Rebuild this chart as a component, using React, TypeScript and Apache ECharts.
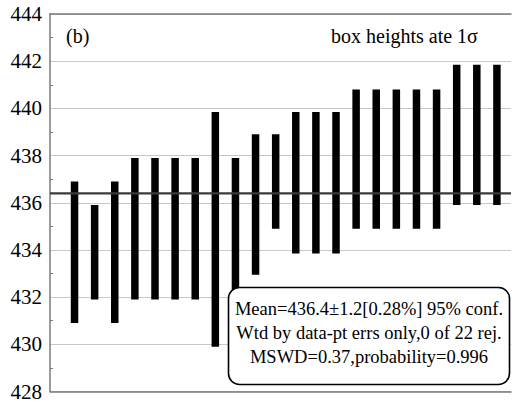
import React, { useEffect, useRef } from "react";
import * as echarts from "echarts";

const positions = [1, 2, 3, 4, 5, 6, 7, 8, 9, 10, 11, 12, 13, 14, 15, 16, 17, 18, 19, 20, 21, 22];
const lows = [430.9, 431.9, 430.9, 431.9, 431.9, 431.9, 431.9, 429.9, 431.9, 432.95, 434.9, 433.85, 433.85, 433.85, 434.9, 434.9, 434.9, 434.9, 434.9, 435.9, 435.9, 435.9];
const highs = [436.9, 435.9, 436.9, 437.9, 437.9, 437.9, 437.9, 439.85, 437.9, 438.9, 438.9, 439.85, 439.85, 439.85, 440.8, 440.8, 440.8, 440.8, 440.8, 441.85, 441.85, 441.85];
const meanValue = 436.4;
const xMin = -0.22;
const xMax = 22.7;
const yMin = 428;
const yMax = 444;
const yInterval = 2;
const panelLabel = "(b)";
const noteLabel = "box heights ate 1σ";
const statLines = [
  "Mean=436.4±1.2[0.28%] 95% conf.",
  "Wtd by data-pt errs only,0 of 22 rej.",
  "MSWD=0.37,probability=0.996",
];

const FONT = "Liberation Serif";

export default function App() {
  const ref = useRef<HTMLDivElement>(null);
  useEffect(() => {
    if (!ref.current) return;
    const chart = echarts.init(ref.current, null, { renderer: "svg" });
    const data = positions.map((p, i) => [p, lows[i], highs[i]]);
    const hiddenX = (pos: string) => ({
      type: "value",
      min: xMin,
      max: xMax,
      position: pos,
      axisLine: { show: true, onZero: false, lineStyle: { color: "#7a7a7a", width: 1.5 } },
      axisTick: { show: false },
      axisLabel: { show: false },
      splitLine: { show: false },
    });
    chart.setOption({
      animation: false,
      grid: { left: 50, right: 1, top: 14, bottom: 6 },
      xAxis: [hiddenX("bottom"), hiddenX("top")],
      yAxis: {
        type: "value",
        min: yMin,
        max: yMax,
        interval: yInterval,
        axisLine: { show: true, onZero: false, lineStyle: { color: "#7a7a7a", width: 1.5 } },
        axisTick: { show: false, inside: true },
        minorTick: { show: true, splitNumber: 2, length: 3, lineStyle: { color: "#7a7a7a" } },
        axisLabel: { color: "#000", fontFamily: FONT, fontSize: 21, margin: 8 },
        splitLine: { show: true, lineStyle: { color: "#c8c8c8", width: 1.2 } },
      },
      series: [
        {
          type: "custom",
          xAxisIndex: 0,
          data,
          renderItem: (params: any, api: any) => {
            const x = api.value(0);
            const top = api.coord([x, api.value(2)]);
            const bot = api.coord([x, api.value(1)]);
            const w = 7.5;
            return {
              type: "rect",
              shape: { x: top[0] - w / 2, y: top[1], width: w, height: bot[1] - top[1] },
              style: { fill: "#000" },
            };
          },
          z: 2,
        },
        {
          type: "line",
          xAxisIndex: 0,
          data: [
            [xMin, meanValue],
            [xMax, meanValue],
          ],
          symbol: "none",
          lineStyle: { color: "#3a3a3a", width: 2.2 },
          z: 3,
        },
      ],
      graphic: [
        {
          type: "text",
          left: 66,
          top: 26,
          z: 50,
          style: { text: panelLabel, fontFamily: FONT, fontSize: 20, fill: "#000" },
        },
        {
          type: "text",
          left: 331,
          top: 26,
          z: 50,
          style: { text: noteLabel, fontFamily: FONT, fontSize: 20, fill: "#000" },
        },
        {
          type: "rect",
          z: 100,
          shape: { x: 228.5, y: 287.5, width: 281, height: 97, r: 11 },
          style: { fill: "#fff", stroke: "#000", lineWidth: 1.6 },
        },
        ...statLines.map((t, i) => ({
          type: "text",
          z: 101,
          x: 369,
          y: 308.5 + i * 24.3,
          style: {
            text: t,
            fontFamily: FONT,
            fontSize: 18.5,
            fill: "#000",
            align: "center",
            verticalAlign: "middle",
          },
        })),
      ],
    });
    return () => chart.dispose();
  }, []);
  return <div ref={ref} style={{ width: 512, height: 402, position: "absolute", left: 0, top: 0 }} />;
}
